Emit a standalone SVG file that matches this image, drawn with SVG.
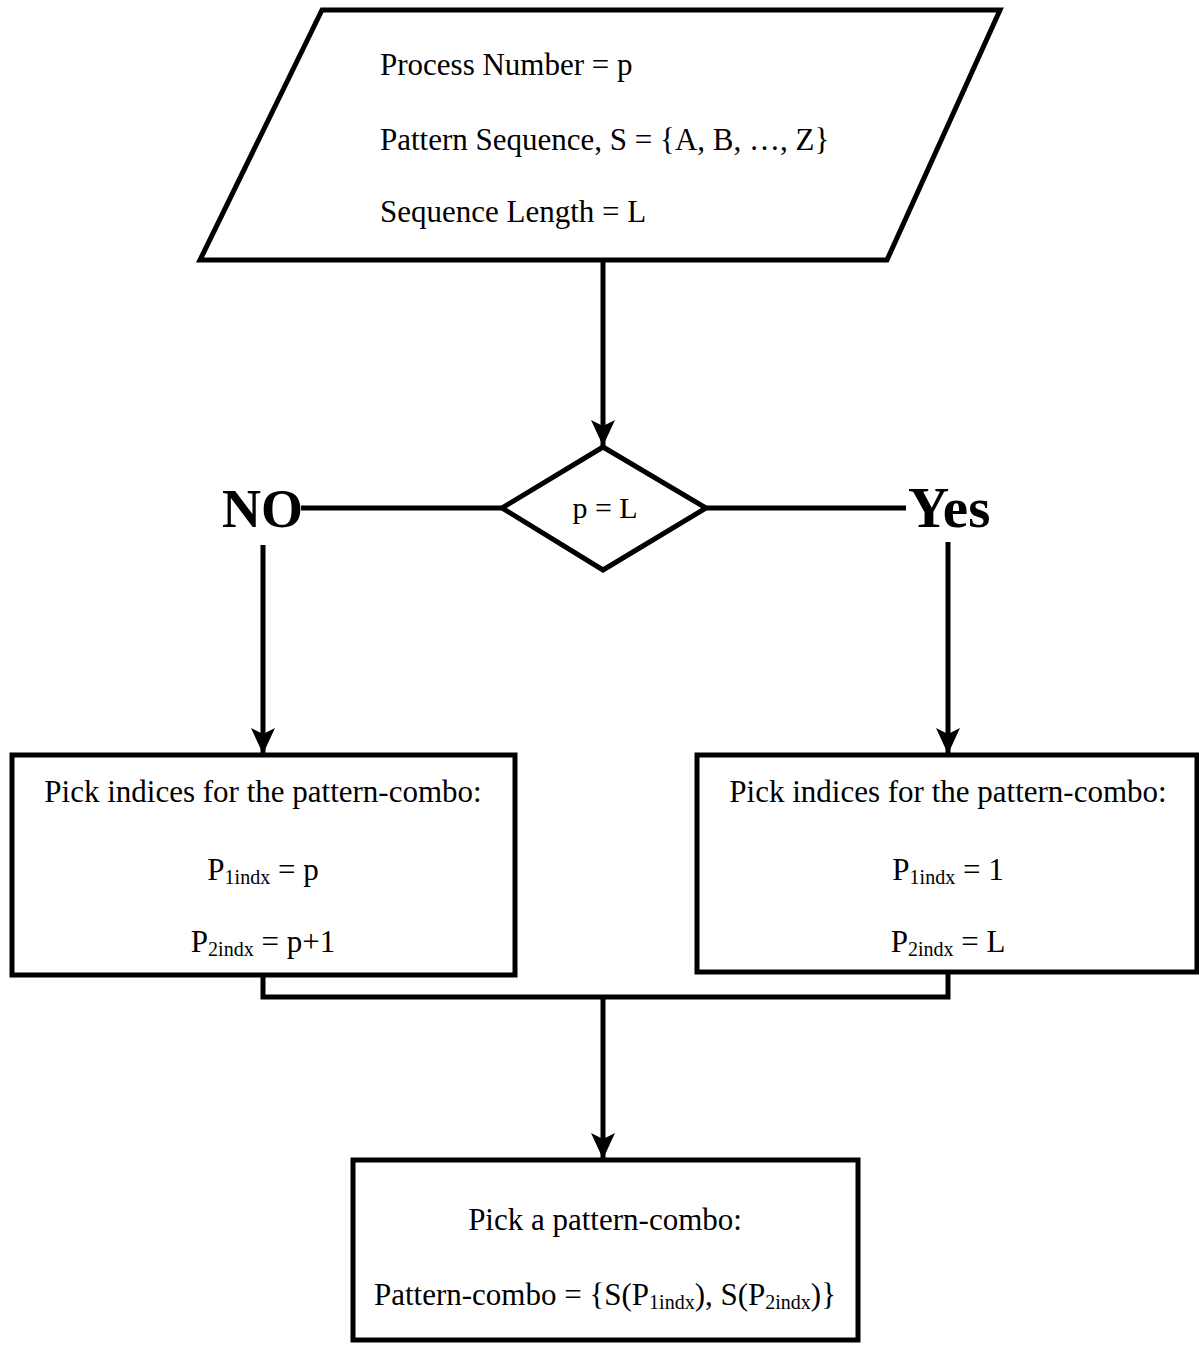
<svg xmlns="http://www.w3.org/2000/svg" width="1199" height="1348" viewBox="0 0 1199 1348">
<style>
.shape{fill:#fff;stroke:#000;stroke-width:5;stroke-linejoin:miter}
.line{fill:none;stroke:#000;stroke-width:5}
text{font-family:"Liberation Serif","Times New Roman",serif;fill:#000}
.t{font-size:31px}
.c{text-anchor:middle}
.b{font-size:54px;font-weight:bold}
.sub{font-size:20px}
</style>
<defs>
<marker id="arr" markerUnits="userSpaceOnUse" markerWidth="26" markerHeight="24" refX="26" refY="12" orient="auto" viewBox="0 0 26 24">
<path d="M0,0 L26,12 L0,24 L6,12 Z" fill="#000"/>
</marker>
</defs>
<g id="connectors">
<line class="line" x1="603" y1="260" x2="603" y2="446" marker-end="url(#arr)"/>
<line class="line" x1="502" y1="508" x2="301" y2="508"/>
<line class="line" x1="706" y1="508" x2="906" y2="508"/>
<line class="line" x1="263" y1="545" x2="263" y2="754" marker-end="url(#arr)"/>
<line class="line" x1="948" y1="542" x2="948" y2="754" marker-end="url(#arr)"/>
<polyline class="line" points="263,975 263,997 948,997 948,972"/>
<line class="line" x1="603" y1="997" x2="603" y2="1159" marker-end="url(#arr)"/>
</g>
<g id="input">
<polygon class="shape" points="322,10 1000,10 887,260 200,260"/>
<text class="t" x="380" y="75">Process Number = p</text>
<text class="t" x="380" y="150">Pattern Sequence, S = {A, B, …, Z}</text>
<text class="t" x="380" y="222">Sequence Length = L</text>
</g>
<g id="decision">
<polygon class="shape" points="603,447 706,508 603,570 502,508"/>
<text class="c" x="605" y="518" style="font-size:30px">p = L</text>
</g>
<g id="label-no"><text class="b" x="222" y="527">NO</text></g>
<g id="label-yes"><text class="b" x="908" y="527" style="font-size:57px">Yes</text></g>
<g id="left-box">
<rect class="shape" x="12" y="755" width="503" height="220"/>
<text class="t c" x="263" y="802">Pick indices for the pattern-combo:</text>
<text class="t c" x="263" y="880">P<tspan class="sub" dy="4">1indx</tspan><tspan dy="-4"> = p</tspan></text>
<text class="t c" x="263" y="952">P<tspan class="sub" dy="4">2indx</tspan><tspan dy="-4"> = p+1</tspan></text>
</g>
<g id="right-box">
<rect class="shape" x="697" y="755" width="500" height="217"/>
<text class="t c" x="948" y="802">Pick indices for the pattern-combo:</text>
<text class="t c" x="948" y="880">P<tspan class="sub" dy="4">1indx</tspan><tspan dy="-4"> = 1</tspan></text>
<text class="t c" x="948" y="952">P<tspan class="sub" dy="4">2indx</tspan><tspan dy="-4"> = L</tspan></text>
</g>
<g id="result-box">
<rect class="shape" x="353" y="1160" width="505" height="180"/>
<text class="t c" x="605" y="1230">Pick a pattern-combo:</text>
<text class="t c" x="605" y="1305">Pattern-combo = {S(P<tspan class="sub" dy="4">1indx</tspan><tspan dy="-4">), S(P</tspan><tspan class="sub" dy="4">2indx</tspan><tspan dy="-4">)}</tspan></text>
</g>
</svg>
